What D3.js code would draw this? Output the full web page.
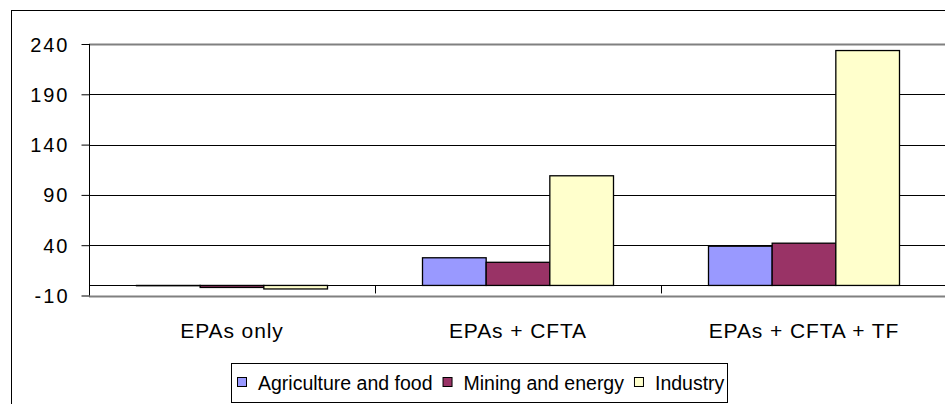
<!DOCTYPE html>
<html>
<head>
<meta charset="utf-8">
<script src="https://cdn.jsdelivr.net/npm/d3@7/dist/d3.min.js"></script>
<style>
  body { margin: 0; background: #fff; }
  text { font-family: "Liberation Sans", Arial, sans-serif; fill: #000; }
</style>
</head>
<body>
<div id="chart"></div>
<script>
// data
var categories = ["EPAs only", "EPAs + CFTA", "EPAs + CFTA + TF"];
var seriesNames = ["Agriculture and food", "Mining and energy", "Industry"];
var agriculture = [-0.3, 27.5, 39];
var mining = [-2, 23, 42];
var industry = [-3.5, 109, 233.5];
var yTicks = [-10, 40, 90, 140, 190, 240];
var colors = ["#9999ff", "#993366", "#ffffcc"];

var series = [agriculture, mining, industry];

var width = 945, height = 404;
var plotLeft = 89, plotRight = 947, plotTop = 44, plotBottom = 295.5;

var svg = d3.select("#chart")
	.append("svg")
	.attr("width", width)
	.attr("height", height);

// outer chart border
svg.append("rect")
	.attr("x", 11.5).attr("y", 10.5)
	.attr("width", 950).attr("height", 410)
	.attr("fill", "#fff")
	.attr("stroke", "#000")
	.attr("stroke-width", 1);

var y = d3.scaleLinear().domain([-10, 240]).range([plotBottom, plotTop]);

var x0 = d3.scaleBand().domain(categories).range([plotLeft, plotRight]);
var x1 = d3.scaleBand().domain(seriesNames)
	.range([47.5, x0.bandwidth() - 47.5]);

// gridlines
svg.append("g")
	.selectAll("line")
	.data(yTicks.filter(function (d) { return d > -10 && d < 240; }))
	.enter().append("line")
	.attr("x1", plotLeft).attr("x2", plotRight)
	.attr("y1", function (d) { return Math.round(y(d)) + 0.5; })
	.attr("y2", function (d) { return Math.round(y(d)) + 0.5; })
	.attr("stroke", "#000")
	.attr("stroke-width", 1);

// plot area border top / bottom (grey)
[240, -10].forEach(function (v) {
	svg.append("line")
		.attr("x1", plotLeft).attr("x2", plotRight)
		.attr("y1", Math.round(y(v)) + 0.5).attr("y2", Math.round(y(v)) + 0.5)
		.attr("stroke", "#808080")
		.attr("stroke-width", 2);
});

// bars
var groups = svg.append("g")
	.selectAll("g")
	.data(categories)
	.enter().append("g")
	.attr("transform", function (d) { return "translate(" + x0(d) + ",0)"; });

groups.selectAll("rect")
	.data(function (d, i) {
		return series.map(function (s, j) { return { name: seriesNames[j], value: s[i], color: colors[j] }; });
	})
	.enter().append("rect")
	.attr("x", function (d) { return x1(d.name); })
	.attr("width", x1.bandwidth())
	.attr("y", function (d) { return Math.min(y(d.value), y(0)); })
	.attr("height", function (d) { return Math.abs(y(d.value) - y(0)); })
	.attr("fill", function (d) { return d.color; })
	.attr("stroke", "#000")
	.attr("stroke-width", 1.3);

// category axis at zero
var xAxis = d3.axisBottom(x0).tickSize(0).tickFormat("");
svg.append("g")
	.attr("transform", "translate(0," + (Math.round(y(0)) + 0.5) + ")")
	.call(xAxis)
	.call(function (g) { g.select(".domain").attr("stroke", "#000").attr("d", "M" + plotLeft + ",0H" + plotRight); });

svg.append("g")
	.selectAll("line")
	.data(categories.slice(1))
	.enter().append("line")
	.attr("x1", function (d) { return Math.round(x0(d)) + 0.5; })
	.attr("x2", function (d) { return Math.round(x0(d)) + 0.5; })
	.attr("y1", y(0)).attr("y2", y(0) + 8)
	.attr("stroke", "#000");

// category labels
svg.append("g")
	.selectAll("text")
	.data(categories)
	.enter().append("text")
	.attr("x", function (d) { return x0(d) + x0.bandwidth() / 2; })
	.attr("y", 337.5)
	.attr("text-anchor", "middle")
	.style("font-size", "21px")
	.style("letter-spacing", "0.9px")
	.text(function (d) { return d; });

// value axis
var yAxis = d3.axisLeft(y).tickValues(yTicks).tickSize(8).tickPadding(12)
	.tickFormat(function (d) { return String(d); });
var ya = svg.append("g")
	.attr("transform", "translate(" + (plotLeft + 0.5) + ",0)")
	.call(yAxis);
ya.select(".domain").attr("stroke", "#000").attr("d", "M0," + plotTop + "V" + plotBottom);
ya.selectAll(".tick line").attr("stroke", "#000");
ya.selectAll(".tick text")
	.attr("font-family", null)
	.attr("font-size", null)
	.style("font-size", "20px")
	.style("letter-spacing", "2px")
	.attr("dy", "0.35em");

// legend
var legend = svg.append("g");
legend.append("rect")
	.attr("x", 231.5).attr("y", 363.5)
	.attr("width", 496).attr("height", 39)
	.attr("fill", "#fff")
	.attr("stroke", "#000");

var lx = 237;
seriesNames.forEach(function (name, i) {
	legend.append("rect")
		.attr("x", lx + 0.5).attr("y", 377.5)
		.attr("width", 9).attr("height", 9)
		.attr("fill", colors[i])
		.attr("stroke", "#000");
	var t = legend.append("text")
		.attr("x", lx + 21)
		.attr("y", 390)
		.style("font-size", "19.5px")
		.text(name);
	lx = lx + 21 + t.node().getComputedTextLength() + 10;
});
</script>
</body>
</html>
